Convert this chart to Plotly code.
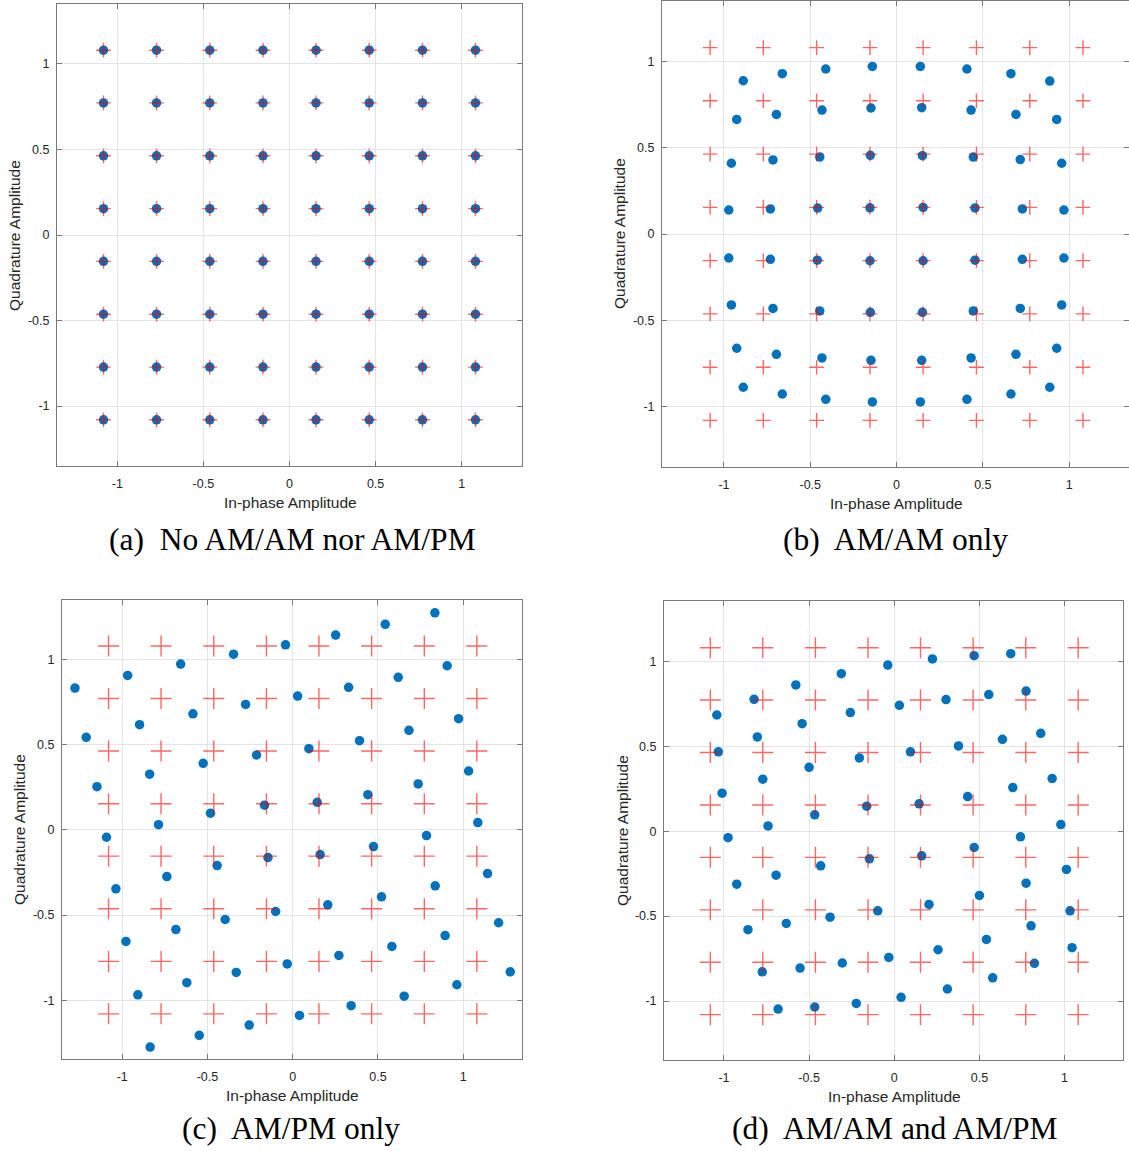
import plotly.graph_objects as go

W, H = 1129, 1151

# Ideal 64-QAM constellation levels (reference crosses)
levels = [-1.08, -0.772, -0.463, -0.154, 0.154, 0.463, 0.772, 1.08]
ideal_i = [x for y in levels for x in levels]
ideal_q = [y for y in levels for x in levels]

# (a) received points sit on the ideal positions
a_i = list(ideal_i)
a_q = list(ideal_q)

# (b) AM/AM only
b_i = [-0.888, -0.662, -0.410, -0.140, 0.138, 0.408, 0.663, 0.888,
       -0.926, -0.696, -0.432, -0.148, 0.146, 0.432, 0.692, 0.928,
       -0.957, -0.716, -0.445, -0.152, 0.150, 0.445, 0.717, 0.957,
       -0.972, -0.731, -0.457, -0.154, 0.154, 0.455, 0.729, 0.970,
       -0.972, -0.731, -0.459, -0.154, 0.154, 0.455, 0.729, 0.970,
       -0.957, -0.716, -0.445, -0.152, 0.150, 0.445, 0.717, 0.957,
       -0.926, -0.696, -0.432, -0.148, 0.146, 0.432, 0.692, 0.928,
       -0.888, -0.662, -0.410, -0.140, 0.138, 0.408, 0.663, 0.888]
b_q = [0.888, 0.929, 0.956, 0.971, 0.971, 0.956, 0.929, 0.886,
       0.664, 0.693, 0.718, 0.730, 0.732, 0.718, 0.693, 0.664,
       0.410, 0.429, 0.446, 0.456, 0.454, 0.446, 0.431, 0.410,
       0.139, 0.145, 0.150, 0.152, 0.154, 0.151, 0.145, 0.139,
       -0.139, -0.147, -0.152, -0.155, -0.155, -0.152, -0.147, -0.139,
       -0.411, -0.431, -0.446, -0.454, -0.454, -0.446, -0.431, -0.411,
       -0.662, -0.697, -0.718, -0.732, -0.732, -0.718, -0.697, -0.662,
       -0.888, -0.927, -0.958, -0.973, -0.973, -0.958, -0.927, -0.888]

# (c) AM/PM only
c_i = [0.834, 0.543, 0.252, -0.042, -0.347, -0.657, -0.968, -1.277,
       0.906, 0.619, 0.328, 0.029, -0.276, -0.585, -0.898, -1.211,
       0.973, 0.682, 0.392, 0.095, -0.212, -0.525, -0.839, -1.148,
       1.032, 0.736, 0.441, 0.144, -0.165, -0.482, -0.787, -1.092,
       1.086, 0.785, 0.474, 0.161, -0.145, -0.443, -0.738, -1.037,
       1.143, 0.836, 0.521, 0.206, -0.100, -0.396, -0.685, -0.978,
       1.208, 0.894, 0.582, 0.271, -0.032, -0.331, -0.621, -0.908,
       1.276, 0.963, 0.654, 0.343, 0.040, -0.255, -0.548, -0.836]
c_q = [1.275, 1.207, 1.144, 1.087, 1.032, 0.974, 0.907, 0.833,
       0.964, 0.896, 0.837, 0.786, 0.737, 0.682, 0.618, 0.544,
       0.653, 0.585, 0.524, 0.477, 0.440, 0.391, 0.327, 0.254,
       0.346, 0.270, 0.207, 0.162, 0.145, 0.098, 0.031, -0.043,
       0.043, -0.033, -0.098, -0.145, -0.162, -0.209, -0.274, -0.346,
       -0.256, -0.328, -0.393, -0.440, -0.479, -0.526, -0.585, -0.655,
       -0.545, -0.620, -0.684, -0.737, -0.787, -0.837, -0.897, -0.968,
       -0.833, -0.909, -0.976, -1.032, -1.089, -1.146, -1.206, -1.275]

# (d) AM/AM and AM/PM
d_i = [-0.038, -0.311, -0.578, -0.823, -1.042, 0.030, -0.258, -0.541,
       -0.804, -1.033, -0.205, -0.500, -0.772, -1.011, -0.162, -0.467,
       -0.741, -0.976, 0.224, 0.469, 0.684, 0.304, 0.555, 0.774,
       0.095, 0.377, 0.635, 0.860, 0.146, 0.431, 0.696, 0.927,
       0.978, 0.741, -0.146, -0.432, -0.694, -0.925, -0.097, -0.377,
       -0.634, -0.859, -0.032, -0.305, -0.553, -0.775, 0.040, -0.223,
       -0.467, -0.682, 0.469, 0.161, 1.011, 0.774, 0.500, 0.204,
       1.032, 0.803, 0.541, 0.257, 1.044, 0.823, 0.578, 0.312]
d_q = [0.978, 0.927, 0.861, 0.776, 0.684, 0.741, 0.698, 0.633,
       0.555, 0.467, 0.431, 0.376, 0.306, 0.224, 0.147, 0.096,
       0.031, -0.038, 1.014, 1.033, 1.045, 0.775, 0.804, 0.825,
       0.467, 0.502, 0.541, 0.576, 0.161, 0.204, 0.257, 0.310,
       0.039, -0.033, -0.163, -0.204, -0.259, -0.312, -0.469, -0.506,
       -0.543, -0.580, -0.743, -0.776, -0.806, -0.828, -0.978, -1.014,
       -1.035, -1.047, -0.096, -0.145, -0.225, -0.306, -0.378, -0.431,
       -0.469, -0.557, -0.637, -0.698, -0.686, -0.778, -0.863, -0.929]

tick_vals = [-1, -0.5, 0, 0.5, 1]
tick_text = ["-1", "-0.5", "0", "0.5", "1"]

captions = ["(a)\u00a0 No AM/AM nor AM/PM", "(b)\u00a0 AM/AM only",
            "(c)\u00a0 AM/PM only", "(d)\u00a0 AM/AM and AM/PM"]
x_title = "In-phase Amplitude"
y_title = "Quadrature Amplitude"

# layout geometry in pixels: left, right, top, bottom
panels = [
    dict(box=(57, 522, 4, 466), xr=[-1.35, 1.35], yr=[-1.35, 1.35], data=(a_i, a_q),
         cross=10.5, cap=(292, 540), xt=(290, 502), yt=(14, 236)),
    dict(box=(662, 1129, 1, 467), xr=[-1.359, 1.347], yr=[-1.35, 1.35], data=(b_i, b_q),
         cross=10.5, cap=(895, 540), xt=(896, 503), yt=(620, 234)),
    dict(box=(62, 522, 600, 1059), xr=[-1.353, 1.345], yr=[-1.345, 1.35], data=(c_i, c_q),
         cross=15, cap=(291, 1128), xt=(292, 1095), yt=(19, 830)),
    dict(box=(664, 1123, 601, 1060), xr=[-1.352, 1.343], yr=[-1.347, 1.355], data=(d_i, d_q),
         cross=15, cap=(895, 1128), xt=(894, 1096), yt=(622, 831)),
]

fig = go.Figure()
annotations = []
for k, p in enumerate(panels):
    n = "" if k == 0 else str(k + 1)
    xa, ya = "x" + n, "y" + n
    L, R, T, B = p["box"]
    ax_common = dict(
        tickvals=tick_vals, ticktext=tick_text, showgrid=True, gridcolor="#e4e4e4",
        gridwidth=1, zeroline=False, showline=True, linecolor="#7a7a7a", linewidth=1,
        mirror="ticks", ticks="inside", ticklen=5, tickcolor="#7a7a7a",
        tickfont=dict(family="Liberation Sans, Arial, sans-serif", size=12.5, color="#262626"),
    )
    fig.update_layout(**{
        ("xaxis" + n): dict(domain=[L / W, min(R / W, 1.0)], range=p["xr"], anchor=ya,
                            ticklabelstandoff=6, **ax_common),
        ("yaxis" + n): dict(domain=[1 - B / H, min(1 - T / H, 1.0)], range=p["yr"], anchor=xa,
                            ticklabelstandoff=4, **ax_common),
    })
    xi, xq = p["data"]
    fig.add_trace(go.Scatter(x=xi, y=xq, mode="markers", xaxis=xa, yaxis=ya,
                             marker=dict(color="#0072BD", size=9.5, line=dict(width=0)),
                             showlegend=False, hoverinfo="skip"))
    fig.add_trace(go.Scatter(x=ideal_i, y=ideal_q, mode="markers", xaxis=xa, yaxis=ya,
                             marker=dict(symbol="cross-thin", size=p["cross"], color="rgba(255,0,0,0.6)",
                                         line=dict(color="rgba(255,0,0,0.6)", width=1.4)),
                             showlegend=False, hoverinfo="skip"))
    cx, cy = p["cap"]
    annotations.append(dict(text=captions[k], x=cx / W, y=1 - cy / H, xref="paper", yref="paper",
                            showarrow=False, xanchor="center", yanchor="middle",
                            font=dict(family="Liberation Serif, Times New Roman, serif", size=31.5, color="#000")))
    tx, ty = p["xt"]
    annotations.append(dict(text=x_title, x=tx / W, y=1 - ty / H, xref="paper", yref="paper",
                            showarrow=False, xanchor="center", yanchor="middle",
                            font=dict(family="Liberation Sans, Arial, sans-serif", size=15.5, color="#262626")))
    vx, vy = p["yt"]
    annotations.append(dict(text=y_title, x=vx / W, y=1 - vy / H, xref="paper", yref="paper",
                            showarrow=False, xanchor="center", yanchor="middle", textangle=-90,
                            font=dict(family="Liberation Sans, Arial, sans-serif", size=15.5, color="#262626")))

fig.update_layout(width=W, height=H, margin=dict(l=0, r=0, t=0, b=0),
                  paper_bgcolor="white", plot_bgcolor="white", annotations=annotations)

fig.write_html("out.html")
